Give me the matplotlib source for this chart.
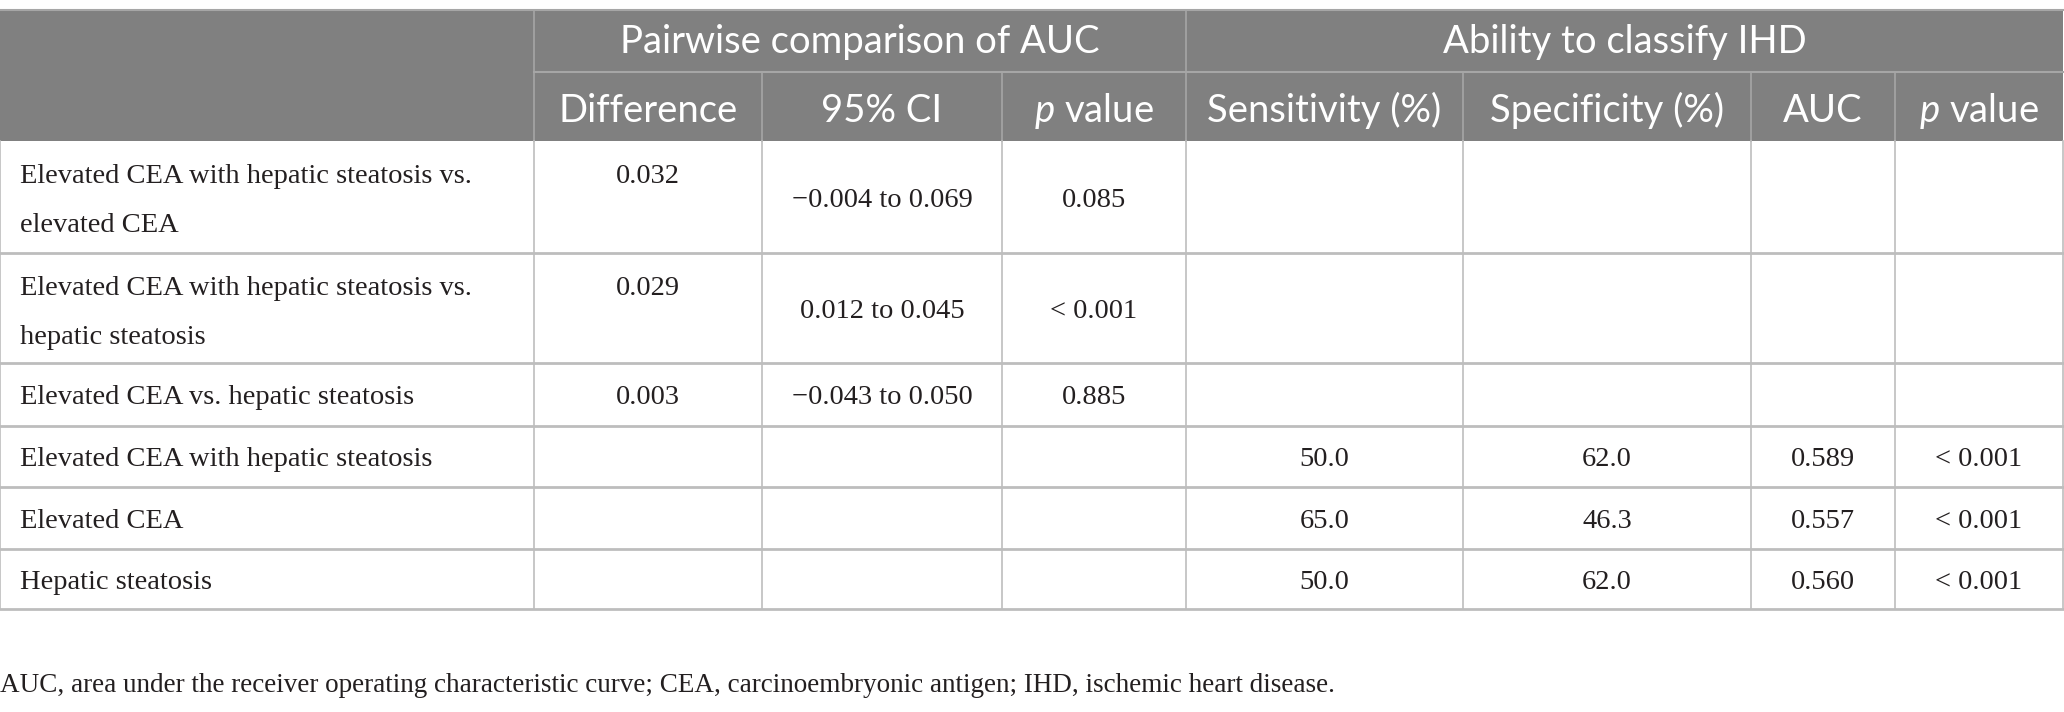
import matplotlib
matplotlib.use("Agg")
import matplotlib.pyplot as plt
from matplotlib.patches import Rectangle

# table content
row_labels = [
    "Elevated CEA with hepatic steatosis vs.\nelevated CEA",
    "Elevated CEA with hepatic steatosis vs.\nhepatic steatosis",
    "Elevated CEA vs. hepatic steatosis",
    "Elevated CEA with hepatic steatosis",
    "Elevated CEA",
    "Hepatic steatosis",
]
difference = ["0.032", "0.029", "0.003", "", "", ""]
ci95 = ["\u22120.004 to 0.069", "0.012 to 0.045", "\u22120.043 to 0.050", "", "", ""]
p_pair = ["0.085", "< 0.001", "0.885", "", "", ""]
sensitivity = ["", "", "", "50.0", "65.0", "50.0"]
specificity = ["", "", "", "62.0", "46.3", "62.0"]
auc = ["", "", "", "0.589", "0.557", "0.560"]
p_auc = ["", "", "", "< 0.001", "< 0.001", "< 0.001"]

group_titles = ["Pairwise comparison of AUC", "Ability to classify IHD"]
col_titles = ["Difference", "95% CI", "$p$ value", "Sensitivity (%)",
              "Specificity (%)", "AUC", "$p$ value"]
footnote = ("AUC, area under the receiver operating characteristic curve; "
            "CEA, carcinoembryonic antigen; IHD, ischemic heart disease.")

# layout (pixels)
W, H = 2064, 712
xs = [0, 534, 762, 1002, 1186, 1463, 1751, 1895, 2063]
y_top, y_h1, y_h2 = 10, 72, 141
row_edges = [141, 253, 363, 426, 487, 549, 609]
head_gray = "#808080"
line_gray = "#bdbdbd"

plt.rcParams["mathtext.fontset"] = "custom"
plt.rcParams["mathtext.rm"] = "Lato"
plt.rcParams["mathtext.it"] = "Lato:italic"

fig = plt.figure(figsize=(W / 100, H / 100), dpi=100)
ax = fig.add_axes([0, 0, 1, 1])
ax.set_xlim(0, W)
ax.set_ylim(H, 0)
ax.axis("off")

head_font = dict(family="Lato", size=27.5, color="white")
body_font = dict(family="Liberation Serif", size=20.5, color="#231f20")

# header background
ax.add_patch(Rectangle((0, y_top), xs[-1], y_h2 - y_top, color=head_gray, lw=0))

# header texts
ax.text((xs[1] + xs[4]) / 2, 53, group_titles[0],
        ha="center", va="baseline", **head_font)
ax.text((xs[4] + xs[-1]) / 2, 53, group_titles[1],
        ha="center", va="baseline", **head_font)
for i, t in enumerate(col_titles):
    ax.text((xs[i + 1] + xs[i + 2]) / 2, 122, t,
            ha="center", va="baseline", **head_font)

# header lines
hl = "#a6a6a6"
ax.plot([xs[1], xs[-1]], [y_h1, y_h1], color=hl, lw=1.5)
ax.plot([0, xs[-1]], [y_top, y_top], color=hl, lw=1.5)
ax.plot([xs[1], xs[1]], [y_top, y_h2], color=hl, lw=1.2)
ax.plot([xs[4], xs[4]], [y_top, y_h2], color=hl, lw=1.2)
for k in [2, 3, 5, 6, 7]:
    ax.plot([xs[k], xs[k]], [y_h1, y_h2], color=hl, lw=1.2)

# body lines
for y in row_edges[1:]:
    ax.plot([0, xs[-1]], [y, y], color=line_gray, lw=2)
for x in xs:
    ax.plot([x, x], [y_h2, row_edges[-1]], color=line_gray, lw=1.2)

# body texts
cols = [difference, ci95, p_pair, sensitivity, specificity, auc, p_auc]
for r, label in enumerate(row_labels):
    y0, y1 = row_edges[r], row_edges[r + 1]
    yc = (y0 + y1) / 2
    lines = label.split("\n")
    if len(lines) == 2:
        ax.text(20, y0 + 42, lines[0], ha="left", va="baseline", **body_font)
        ax.text(20, y0 + 91, lines[1], ha="left", va="baseline", **body_font)
    else:
        ax.text(20, yc + 10, label, ha="left", va="baseline", **body_font)
    for c, values in enumerate(cols):
        v = values[r]
        if not v:
            continue
        yy = y0 + 42 if (len(lines) == 2 and c == 0) else yc + 10
        ax.text((xs[c + 1] + xs[c + 2]) / 2, yy, v, ha="center", va="baseline",
                **body_font)

ax.text(0, 692, footnote, ha="left", va="baseline",
        family="Liberation Serif", size=19.5, color="#231f20")

fig.savefig("out.png", dpi=100)
